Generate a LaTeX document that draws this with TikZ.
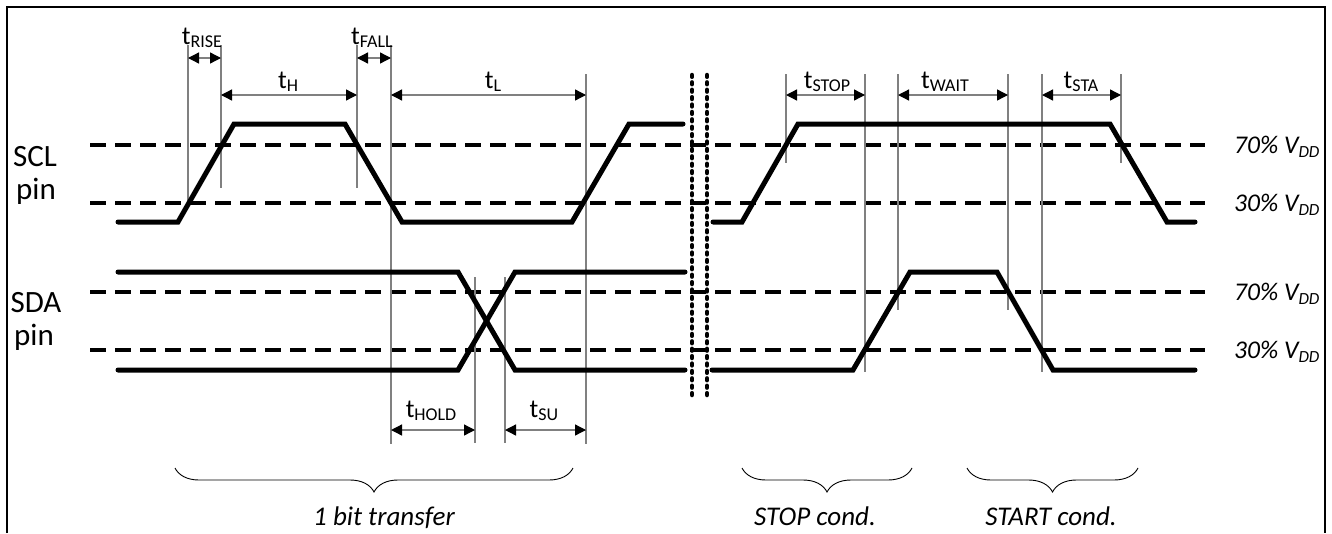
\documentclass[tikz,border=0pt]{standalone}
\usepackage{fontspec}
\setmainfont{Carlito}
\usetikzlibrary{arrows.meta,decorations.pathreplacing}
\newcommand{\tsub}[1]{t\raisebox{-3pt}{\fontsize{18}{18}\selectfont #1}}
\newcommand{\vddlab}[1]{#1\% V\raisebox{-4pt}{\fontsize{17}{17}\selectfont DD}}
\begin{document}
\begin{tikzpicture}[x=1pt,y=-1pt,
  sig/.style={line width=5pt,line cap=round,line join=miter},
  lvl/.style={line width=4pt,dash pattern=on 16pt off 9pt},
  tick/.style={line width=1.3pt,draw=black!50},
  dim/.style={line width=1.3pt,draw=black!50,{Triangle[length=11pt,width=11pt,black]}-{Triangle[length=11pt,width=11pt,black]}},
  brk/.style={line width=4.5pt,line cap=round,dash pattern=on 1.8pt off 5.6pt},
  lbl/.style={inner sep=0pt,font=\fontsize{26}{26}\selectfont,anchor=base},
  side/.style={inner sep=0pt,font=\fontsize{31}{31}\selectfont,anchor=base},
  vdd/.style={inner sep=0pt,font=\fontsize{25.5}{26}\selectfont\itshape,anchor=base west},
  brc/.style={decorate,decoration={brace,mirror,amplitude=24pt},line width=0.9pt},
  blbl/.style={inner sep=0pt,font=\fontsize{27}{27}\selectfont\itshape,anchor=base}]
\useasboundingbox (0,0) rectangle (1332,533);
% frame
\draw[line width=2pt] (7,533) -- (7,7) -- (1325,7) -- (1325,533);
% reference levels
\foreach \yy in {145,203,292,350} {\draw[lvl] (90,\yy) -- (1205,\yy);}
% tick lines
\foreach \n/\xx/\ya/\yb in {v1/188/45/208, v2/221/45/188, v3/357/45/188, v4/391/45/444, v5/586/74/444, v6/475/277/443, v7/505/277/443, v8/786/74/163, v9/865/74/372, v10/898/74/310, v11/1008/74/310, v12/1042/74/372, v13/1121/74/163} {
  \coordinate (\n-t) at (\xx,\ya);
  \coordinate (\n-b) at (\xx,\yb);
  \draw[tick] (\n-t) -- (\n-b);
}
% dimension arrows
\foreach \n/\xa/\xb/\yy in {rise/188/221/58, fall/357/391/58, h/221/357/95, l/391/586/95, stop/786/865/95, wait/898/1008/95, sta/1042/1121/95, hold/391/475/430, su/505/586/430} {
  \coordinate (\n-a) at (\xa,\yy);
  \coordinate (\n-b) at (\xb,\yy);
  \draw[dim] (\n-a) -- (\n-b);
}
% signals
\draw[sig] (118,222) -- (178,222) -- (234,124) -- (345,124) -- (402,222) -- (572,222) -- (629,124) -- (683,124);
\draw[sig] (713,222) -- (742,222) -- (798,124) -- (1110,124) -- (1167,222) -- (1195,222);
\draw[sig] (118,272) -- (458,272) -- (515,370) -- (685,370);
\draw[sig] (118,370) -- (458,370) -- (515,272) -- (685,272);
\draw[sig] (712,370) -- (853,370) -- (910,272) -- (997,272) -- (1053,370) -- (1195,370);
% break marks
\coordinate (bk1t) at (692,75); \coordinate (bk1b) at (692,400);
\coordinate (bk2t) at (707,75); \coordinate (bk2b) at (707,400);
\draw[brk] (bk1t) -- (bk1b);
\draw[brk] (bk2t) -- (bk2b);
% timing labels
\node[lbl] (Lrise) at (202,44) {\tsub{RISE}};
\node[lbl] (Lfall) at (372,44) {\tsub{FALL}};
\node[lbl] (Lh) at (288,88) {\tsub{H}};
\node[lbl] (Ll) at (493,88) {\tsub{L}};
\node[lbl] (Lstop) at (827,88) {\tsub{STOP}};
\node[lbl] (Lwait) at (945,88) {\tsub{WAIT}};
\node[lbl] (Lsta) at (1081,88) {\tsub{STA}};
\node[lbl] (Lhold) at (431,417) {\tsub{HOLD}};
\node[lbl] (Lsu) at (544,417) {\tsub{SU}};
% side labels
\node[side] (scl) at (35,166) {SCL};
\node[side] (sclpin) at (36,199) {pin};
\node[side] (sda) at (36,312) {SDA};
\node[side] (sdapin) at (34,345) {pin};
% level labels
\node[vdd] (l1) at (1234,153) {\vddlab{70}};
\node[vdd] (l2) at (1234,211) {\vddlab{30}};
\node[vdd] (l3) at (1234,300) {\vddlab{70}};
\node[vdd] (l4) at (1234,358) {\vddlab{30}};
% braces
\draw[brc] (175,468) -- (573,468);
\draw[brc] (742,468) -- (912,468);
\draw[brc] (967,468) -- (1138,468);
\node[blbl] (b1) at (384,525) {1 bit transfer};
\node[blbl] (b2) at (815,525) {STOP cond.};
\node[blbl] (b3) at (1051,525) {START cond.};
\end{tikzpicture}
\end{document}
